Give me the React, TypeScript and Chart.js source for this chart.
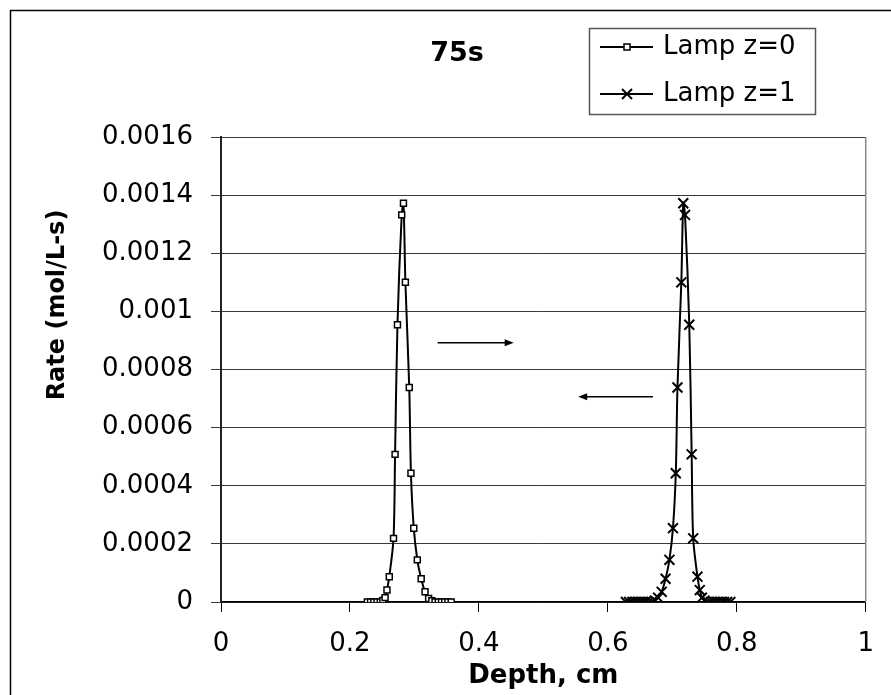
import React, { useEffect, useRef } from 'react';
import { Chart, registerables } from 'chart.js';

Chart.register(...registerables);

// ---------- data ----------
const chartTitle = '75s';
const xAxisTitle = 'Depth, cm';
const yAxisTitle = 'Rate (mol/L-s)';
const seriesLabels = ['Lamp z=0', 'Lamp z=1'];

const xTickLabels = ['0', '0.2', '0.4', '0.6', '0.8', '1'];
const yTickLabels = ['0', '0.0002', '0.0004', '0.0006', '0.0008', '0.001', '0.0012', '0.0014', '0.0016'];

const depthZ0 = [0.227, 0.232, 0.237, 0.242, 0.247, 0.251, 0.2545, 0.2574, 0.261, 0.2676, 0.270, 0.2737, 0.2803, 0.283, 0.286, 0.292, 0.2946, 0.299, 0.3045, 0.3105, 0.3165, 0.322, 0.327, 0.332, 0.337, 0.342, 0.347, 0.352, 0.357];
const rateZ0 = [0, 0, 0, 0, 0, 0.000005, 0.000015, 0.000041, 0.000087, 0.000219, 0.000508, 0.000954, 0.001332, 0.001372, 0.0011, 0.000738, 0.000443, 0.000254, 0.000145, 0.00008, 0.000035, 0.000012, 0.000004, 0, 0, 0, 0, 0, 0];

const depthZ1 = [0.628, 0.633, 0.638, 0.643, 0.648, 0.653, 0.658, 0.663, 0.668, 0.673, 0.678, 0.6835, 0.6895, 0.6955, 0.701, 0.7054, 0.708, 0.714, 0.717, 0.7197, 0.7263, 0.730, 0.7324, 0.739, 0.7426, 0.746, 0.75, 0.755, 0.76, 0.765, 0.77, 0.775, 0.78, 0.785, 0.79];
const rateZ1 = [0, 0, 0, 0, 0, 0, 0, 0, 0, 0.000005, 0.000015, 0.000035, 0.00008, 0.000145, 0.000254, 0.000443, 0.000738, 0.0011, 0.001372, 0.001332, 0.000954, 0.000508, 0.000219, 0.000087, 0.000041, 0.000015, 0.000005, 0, 0, 0, 0, 0, 0, 0, 0];

// annotation arrows (data coordinates)
const arrowFromX = [0.336, 0.670];
const arrowToX = [0.454, 0.554];
const arrowY = [0.000892, 0.000706];

const FONT = 'DejaVu Sans';

const decorPlugin = {
  id: 'decor',
  beforeDraw(chart: any) {
    const { ctx, width, height } = chart;
    ctx.save();
    ctx.fillStyle = '#fff';
    ctx.fillRect(0, 0, width, height);
    ctx.strokeStyle = '#000';
    ctx.lineWidth = 1.5;
    ctx.beginPath();
    ctx.moveTo(10.5, height);
    ctx.lineTo(10.5, 10.5);
    ctx.lineTo(width, 10.5);
    ctx.stroke();
    ctx.restore();
  },
  beforeDatasetsDraw(chart: any) {
    const { ctx, chartArea } = chart;
    ctx.save();
    ctx.strokeStyle = '#888';
    ctx.lineWidth = 1.5;
    ctx.beginPath();
    ctx.moveTo(chartArea.right, chartArea.top);
    ctx.lineTo(chartArea.right, chartArea.bottom);
    ctx.stroke();
    ctx.restore();
  },
  afterDraw(chart: any) {
    const { ctx } = chart;
    const xs = chart.scales.x;
    const ys = chart.scales.y;
    ctx.save();
    // arrows
    ctx.strokeStyle = '#000';
    ctx.fillStyle = '#000';
    ctx.lineWidth = 1.5;
    for (let i = 0; i < arrowFromX.length; i++) {
      const x1 = xs.getPixelForValue(arrowFromX[i]);
      const x2 = xs.getPixelForValue(arrowToX[i]);
      const y = ys.getPixelForValue(arrowY[i]);
      const dir = Math.sign(x2 - x1);
      ctx.beginPath();
      ctx.moveTo(x1, y);
      ctx.lineTo(x2 - dir * 6, y);
      ctx.stroke();
      ctx.beginPath();
      ctx.moveTo(x2, y);
      ctx.lineTo(x2 - dir * 9, y - 3.5);
      ctx.lineTo(x2 - dir * 9, y + 3.5);
      ctx.closePath();
      ctx.fill();
    }
    // y axis title
    ctx.save();
    ctx.translate(58, 305);
    ctx.rotate(-Math.PI / 2);
    ctx.font = `bold 24px "${FONT}"`;
    ctx.textAlign = 'center';
    ctx.textBaseline = 'middle';
    ctx.fillStyle = '#000';
    ctx.fillText(yAxisTitle, 0, 0);
    ctx.restore();
    // title
    ctx.fillStyle = '#000';
    ctx.font = `bold 27px "${FONT}"`;
    ctx.textAlign = 'center';
    ctx.textBaseline = 'middle';
    ctx.fillText(chartTitle, 457, 54);
    // legend
    const bx = 589.5, by = 28.5, bw = 226, bh = 86;
    ctx.strokeStyle = '#555';
    ctx.lineWidth = 1.5;
    ctx.strokeRect(bx, by, bw, bh);
    const rows = [47, 94];
    ctx.font = `26px "${FONT}"`;
    ctx.textAlign = 'left';
    chart.data.datasets.forEach((ds: any, i: number) => {
      const y = rows[i];
      ctx.strokeStyle = '#000';
      ctx.lineWidth = 2;
      ctx.beginPath();
      ctx.moveTo(600, y);
      ctx.lineTo(653, y);
      ctx.stroke();
      if (ds.pointStyle === 'rect') {
        ctx.fillStyle = '#fff';
        ctx.fillRect(624, y - 3, 6, 6);
        ctx.lineWidth = 1.5;
        ctx.strokeRect(624, y - 3, 6, 6);
      } else {
        ctx.lineWidth = 2;
        ctx.beginPath();
        ctx.moveTo(622, y - 5);
        ctx.lineTo(632, y + 5);
        ctx.moveTo(622, y + 5);
        ctx.lineTo(632, y - 5);
        ctx.stroke();
      }
      ctx.fillStyle = '#000';
      ctx.fillText(ds.label, 663, y);
    });
    ctx.restore();
  },
};

export default function App() {
  const ref = useRef<HTMLCanvasElement>(null);
  useEffect(() => {
    const canvas = ref.current;
    if (!canvas) return;
    const chart = new Chart(canvas, {
      type: 'scatter',
      data: {
        datasets: [
          {
            label: seriesLabels[0],
            data: depthZ0.map((x, i) => ({ x, y: rateZ0[i] })),
            showLine: true,
            borderColor: '#000',
            borderWidth: 2,
            tension: 0.3,
            pointStyle: 'rect',
            pointRadius: 4.2,
            pointBorderWidth: 1.5,
            pointBackgroundColor: '#fff',
            pointBorderColor: '#000',
          },
          {
            label: seriesLabels[1],
            data: depthZ1.map((x, i) => ({ x, y: rateZ1[i] })),
            showLine: true,
            borderColor: '#000',
            borderWidth: 2,
            tension: 0.3,
            pointStyle: 'crossRot',
            pointRadius: 7,
            pointBorderWidth: 2,
            pointBackgroundColor: '#000',
            pointBorderColor: '#000',
          },
        ],
      },
      options: {
        responsive: false,
        animation: false,
        devicePixelRatio: 1,
        layout: { padding: { left: 20, right: 16, top: 137, bottom: 0 } },
        plugins: {
          legend: { display: false },
          title: { display: false },
          tooltip: { enabled: false },
        },
        scales: {
          x: {
            type: 'linear',
            min: 0,
            max: 1,
            afterFit: (s: any) => { s.height = 93; },
            ticks: {
              stepSize: 0.2,
              autoSkip: false,
              maxRotation: 0,
              padding: 17,
              color: '#000',
              font: { family: FONT, size: 26 },
              callback: (_v: any, i: number) => xTickLabels[i],
            },
            grid: { display: true, drawOnChartArea: false, drawTicks: true, tickLength: 10, color: '#000', lineWidth: 1 },
            border: { display: true, color: '#000', width: 1.5 },
            title: {
              display: true,
              text: xAxisTitle,
              color: '#000',
              font: { family: FONT, size: 26, weight: 'bold' },
              padding: { top: 0, bottom: 3 },
            },
          },
          y: {
            type: 'linear',
            min: 0,
            max: 0.0016,
            afterFit: (s: any) => { s.width = 201; },
            ticks: {
              stepSize: 0.0002,
              autoSkip: false,
              padding: 18,
              color: '#000',
              font: { family: FONT, size: 26 },
              callback: (_v: any, i: number) => yTickLabels[i],
            },
            grid: { display: true, drawOnChartArea: true, drawTicks: true, tickLength: 10, color: '#3a3a3a', lineWidth: 1 },
            border: { display: true, color: '#222', width: 2 },
            title: { display: false },
          },
        },
      } as any,
      plugins: [decorPlugin],
    });
    return () => chart.destroy();
  }, []);
  return (
    <div style={{ position: 'fixed', left: 0, top: 0, width: 891, height: 695, background: '#fff' }}>
      <canvas ref={ref} width={891} height={695} style={{ display: 'block', width: 891, height: 695 }} />
    </div>
  );
}
